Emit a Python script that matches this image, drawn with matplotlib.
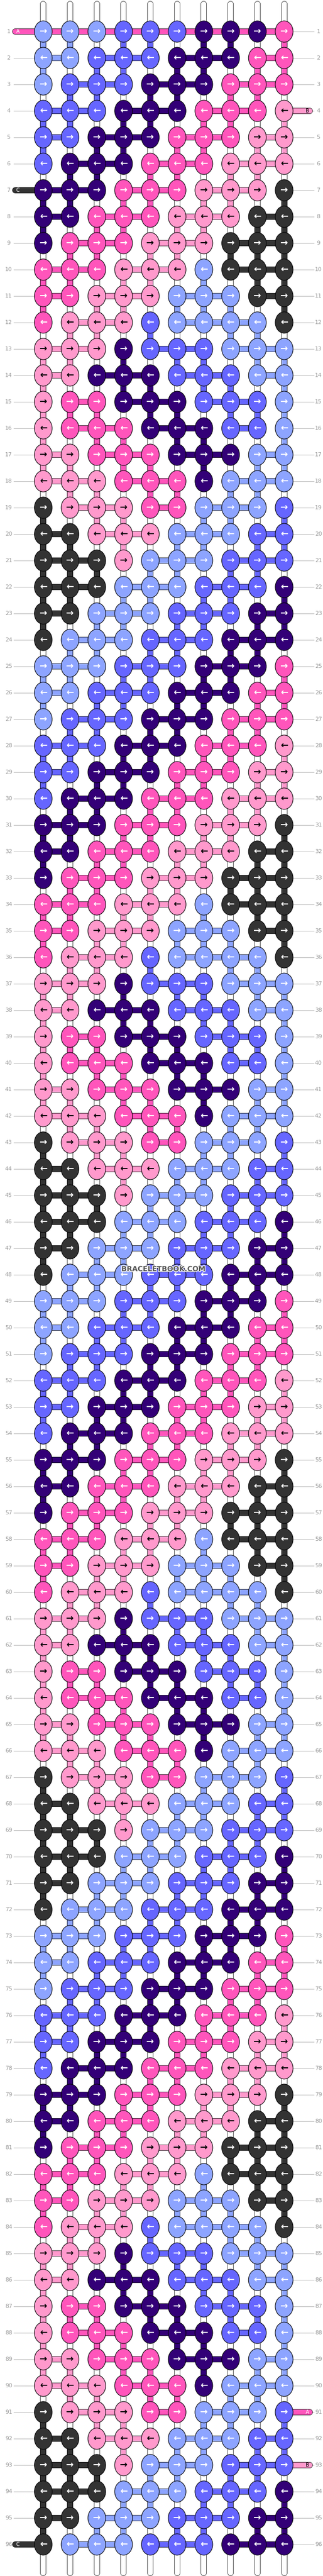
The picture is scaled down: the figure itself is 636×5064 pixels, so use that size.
import matplotlib
matplotlib.use("Agg")
import matplotlib.pyplot as plt
from matplotlib.patches import Ellipse
import matplotlib.patheffects as pe

# colours of the threads
colors = {
    'LB': '#8DA4FF',
    'B': '#6666FF',
    'P': '#330077',
    'H': '#FF55BB',
    'LP': '#FF99CC',
    'K': '#333333',
}

# one repeat of the pattern (24 rows x 10 knots); chart has 4 repeats
repeat = [
    "LB LB LB B B B P P P H",
    "LB LB B B B P P P H H",
    "LB B B B P P P H H H",
    "B B B P P P H H H LP",
    "B B P P P H H H LP LP",
    "B P P P H H H LP LP LP",
    "P P P H H H LP LP LP K",
    "P P H H H LP LP LP K K",
    "P H H H LP LP LP K K K",
    "H H H LP LP LP LB K K K",
    "H H LP LP LP LB LB LB K K",
    "H LP LP LP B LB LB LB LB K",
    "LP LP LP P B B B LB LB LB",
    "LP LP P P P B B B LB LB",
    "LP H H P P P B B B LB",
    "LP H H H P P P B B LB",
    "LP LP H H H P P P LB LB",
    "LP LP LP H H H P LB LB LB",
    "K LP LP LP H H LB LB LB B",
    "K K LP LP LP LB LB LB B B",
    "K K K LP LB LB LB B B B",
    "K K K LB LB LB B B B P",
    "K K LB LB LB B B B P P",
    "K LB LB LB B B B P P P",
]
n_repeats = 4
rows = [r.split() for r in repeat] * n_repeats
n_rows = len(rows)
n_cols = 10

# thread end labels: (row, side, label, colour)
ends = [(1, 'left', 'A', 'H'), (4, 'right', 'B', 'LP'), (7, 'left', 'C', 'K'),
        (91, 'right', 'A', 'H'), (93, 'right', 'B', 'LP'), (96, 'left', 'C', 'K')]

W, H = 636, 5064
fig = plt.figure(figsize=(W / 100, H / 100), dpi=100)
ax = fig.add_axes([0, 0, 1, 1])
ax.set_xlim(0, W)
ax.set_ylim(H, 0)
ax.axis('off')

x0, dx = 85.2, 52.7
y0, dy = 62, 52
kw, kh = 35, 42

def X(c):
    return x0 + c * dx

def Y(r):
    return y0 + r * dy

outline = [pe.withStroke(linewidth=8.5, foreground='black')]

# row labels and guide lines
for r in range(n_rows):
    y = Y(r)
    ax.plot([27, 68], [y, y], color='#bbbbbb', lw=0.8, zorder=0)
    ax.plot([577, 618], [y, y], color='#bbbbbb', lw=0.8, zorder=0)
    ax.text(17, y, str(r + 1), color='#999999', fontsize=8, ha='center', va='center')
    ax.text(627, y, str(r + 1), color='#999999', fontsize=8, ha='center', va='center')

# white vertical strands
for c in range(n_cols):
    ax.plot([X(c), X(c)], [8, H - 6], color='white', lw=7.5, solid_capstyle='round',
            path_effects=outline, zorder=1)

# thread ends
for row, side, lab, col in ends:
    y = Y(row - 1)
    if side == 'left':
        xs = [30, X(0)]
        tx = 35
    else:
        xs = [X(n_cols - 1), 610]
        tx = 605
    ax.plot(xs, [y, y], color=colors[col], lw=7.5, solid_capstyle='round',
            path_effects=outline, zorder=2)
    ax.text(tx, y, lab, color='white' if col != 'LP' else 'black', fontsize=7,
            ha='center', va='center', zorder=3)

# thread A runs straight through row 1
ax.plot([X(0), X(n_cols - 1)], [Y(0), Y(0)], color=colors['H'], lw=7.5,
        path_effects=outline, zorder=2)

# connectors between knots
for r in range(n_rows):
    for c in range(n_cols):
        k = rows[r][c]
        if r > 0 and c + 1 < n_cols and rows[r][c + 1] == k:
            ax.plot([X(c), X(c + 1)], [Y(r), Y(r)], color=colors[k], lw=7.5,
                    path_effects=outline, zorder=2)
        if r + 1 < n_rows:
            nxt = rows[r + 1]
            if nxt[c] == k:
                ax.plot([X(c), X(c)], [Y(r), Y(r + 1)], color=colors[k], lw=7.5,
                        path_effects=outline, zorder=2)
            else:
                for cc in (c - 1, c + 1):
                    if 0 <= cc < n_cols and nxt[cc] == k and rows[r][cc] != k:
                        ax.plot([X(c), X(cc)], [Y(r), Y(r + 1)], color=colors[k], lw=6,
                                path_effects=[pe.withStroke(linewidth=7.5, foreground='black')],
                                zorder=2)
                        break

# knots
for r in range(n_rows):
    arrow = '→' if r % 2 == 0 else '←'
    for c in range(n_cols):
        k = rows[r][c]
        ax.add_patch(Ellipse((X(c), Y(r)), kw, kh, facecolor=colors[k],
                             edgecolor='black', lw=0.8, zorder=4))
        ax.text(X(c), Y(r), arrow, color='black' if k == 'LP' else 'white',
                fontsize=13, fontweight='bold', ha='center', va='center', zorder=5)

ax.text(322, 2495, 'BRACELETBOOK.COM', color='#555555', fontsize=10, fontweight='bold',
        ha='center', va='center', zorder=6,
        path_effects=[pe.withStroke(linewidth=2, foreground='white')])

fig.savefig('out.png', dpi=100)
